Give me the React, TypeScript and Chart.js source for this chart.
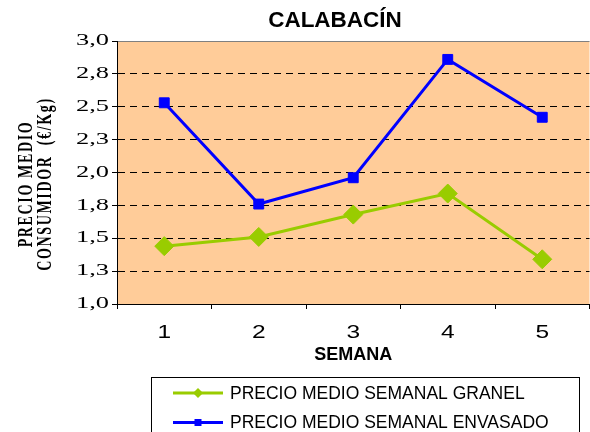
import React, { useEffect, useRef } from "react";
import { Chart, registerables } from "chart.js";

Chart.register(...registerables);

const chartTitle = "CALABACÍN";
const weeks = ["1", "2", "3", "4", "5"];
const granel = [1.44, 1.51, 1.68, 1.84, 1.34];
const envasado = [2.53, 1.76, 1.96, 2.86, 2.42];
const yTickLabels = ["1,0", "1,3", "1,5", "1,8", "2,0", "2,3", "2,5", "2,8", "3,0"];
const seriesLabels = ["PRECIO MEDIO SEMANAL GRANEL", "PRECIO MEDIO SEMANAL ENVASADO"];
const xTitle = "SEMANA";
const yTitleLines = ["PRECIO MEDIO", "CONSUMIDOR  (€/Kg)"];

const GREEN = "#99CC00";
const BLUE = "#0000FF";

const decorPlugin = {
  id: "decor",
  beforeDraw(chart: any) {
    const { ctx, chartArea } = chart;
    ctx.save();
    ctx.fillStyle = "#FFCC99";
    ctx.fillRect(chartArea.left, chartArea.top, chartArea.right - chartArea.left, chartArea.bottom - chartArea.top);
    ctx.restore();
  },
  afterDraw(chart: any) {
    const { ctx } = chart;
    ctx.save();
    // title
    ctx.fillStyle = "#000";
    ctx.font = "bold 22.5px 'Liberation Sans', Arial, sans-serif";
    ctx.textAlign = "center";
    ctx.textBaseline = "alphabetic";
    ctx.fillText(chartTitle, 335, 27);

    // y tick labels (horizontally widened, as in the reference)
    const ys = chart.scales.y;
    ctx.font = "16px 'Liberation Serif', 'Times New Roman', serif";
    ctx.textAlign = "right";
    ctx.textBaseline = "middle";
    ys.ticks.forEach((_t: any, i: number) => {
      const py = ys.getPixelForTick(i);
      ctx.save();
      ctx.translate(109, py);
      ctx.scale(1.65, 1);
      ctx.fillText(yTickLabels[i], 0, 0);
      ctx.restore();
    });

    // x tick labels
    const xs = chart.scales.x;
    ctx.font = "17.5px 'Liberation Sans', Arial, sans-serif";
    ctx.textAlign = "center";
    ctx.textBaseline = "middle";
    weeks.forEach((w, i) => {
      const px = xs.getPixelForTick(i);
      ctx.save();
      ctx.translate(px, 333);
      ctx.scale(1.4, 1);
      ctx.fillText(w, 0, 0);
      ctx.restore();
    });

    // y axis title
    ctx.save();
    ctx.font = "bold 14px 'Liberation Serif', 'Times New Roman', serif";
    (ctx as any).letterSpacing = "1.65px";
    ctx.textAlign = "center";
    ctx.textBaseline = "middle";
    const tx = [27, 46];
    yTitleLines.forEach((line, i) => {
      ctx.save();
      ctx.translate(tx[i], 184);
      ctx.scale(1.45, 1);
      ctx.rotate(-Math.PI / 2);
      ctx.fillText(line, 0, 0);
      ctx.restore();
    });
    ctx.restore();

    // legend
    ctx.strokeStyle = "#000";
    ctx.lineWidth = 1;
    ctx.strokeRect(151.5, 377.5, 428, 70);
    const ds = chart.data.datasets;
    ds.forEach((d: any, i: number) => {
      const y = 393 + i * 29.5;
      ctx.strokeStyle = d.borderColor;
      ctx.lineWidth = 3;
      ctx.beginPath();
      ctx.moveTo(173, y);
      ctx.lineTo(223, y);
      ctx.stroke();
      ctx.fillStyle = d.borderColor;
      ctx.beginPath();
      if (d.pointStyle === "rectRot") {
        const r = 5;
        ctx.moveTo(198 - r, y);
        ctx.lineTo(198, y - r);
        ctx.lineTo(198 + r, y);
        ctx.lineTo(198, y + r);
        ctx.closePath();
      } else {
        ctx.rect(198 - 3.5, y - 3.5, 7, 7);
      }
      ctx.fill();
      ctx.fillStyle = "#000";
      ctx.font = "17.5px 'Liberation Sans', Arial, sans-serif";
      ctx.textAlign = "left";
      ctx.textBaseline = "middle";
      ctx.fillText(d.label, 230, y + 1);
    });
    ctx.restore();
  },
};

export default function App() {
  const ref = useRef<HTMLCanvasElement | null>(null);
  useEffect(() => {
    if (!ref.current) return;
    const chart = new Chart(ref.current, {
      type: "line",
      data: {
        labels: weeks,
        datasets: [
          {
            label: seriesLabels[0],
            data: granel,
            borderColor: GREEN,
            backgroundColor: GREEN,
            borderWidth: 3,
            pointStyle: "rectRot",
            pointRadius: 9.5,
            pointBorderWidth: 1,
            pointBackgroundColor: GREEN,
            pointBorderColor: GREEN,
            tension: 0,
          },
          {
            label: seriesLabels[1],
            data: envasado,
            borderColor: BLUE,
            backgroundColor: BLUE,
            borderWidth: 3,
            pointStyle: "rect",
            pointRadius: 7,
            pointBorderWidth: 1,
            pointBackgroundColor: BLUE,
            pointBorderColor: BLUE,
            tension: 0,
          },
        ],
      },
      options: {
        animation: false,
        responsive: false,
        devicePixelRatio: 1,
        layout: { padding: { top: 41, right: 5, bottom: 68, left: 0 } },
        plugins: {
          legend: { display: false },
          title: { display: false },
          tooltip: { enabled: false },
        },
        scales: {
          x: {
            type: "category",
            offset: true,
            afterFit: (s: any) => {
              s.height = 60;
            },
            grid: {
              offset: true,
              drawOnChartArea: false,
              drawTicks: true,
              tickLength: 5,
              tickColor: "#000",
              color: "#000",
            },
            border: { display: true, color: "#000", width: 1 },
            ticks: {
              color: "rgba(0,0,0,0)",
              padding: 14,
              font: { family: "'Liberation Sans', Arial, sans-serif", size: 17 },
              maxRotation: 0,
            },
            title: {
              display: true,
              text: xTitle,
              color: "#000",
              padding: { top: 0, bottom: 0 },
              font: { family: "'Liberation Sans', Arial, sans-serif", size: 18, weight: "bold", lineHeight: 1 },
            },
          },
          y: {
            type: "linear",
            min: 1,
            max: 3,
            afterFit: (s: any) => {
              s.width = 117;
            },
            grid: {
              drawTicks: true,
              tickLength: 5,
              tickColor: "#000",
              lineWidth: 1,
              color: (c: any) => {
                const v = c.tick ? c.tick.value : 0;
                if (Math.abs(v - 1) < 1e-6) return "rgba(0,0,0,0)";
                if (Math.abs(v - 3) < 1e-6) return "#808080";
                return "#000";
              },
            },
            border: {
              display: true,
              color: "#000",
              width: 1,
              dash: (c: any) => {
                const v = c.tick ? c.tick.value : 0;
                if (Math.abs(v - 3) < 1e-6) return [];
                return [7, 5];
              },
            },
            ticks: {
              stepSize: 0.25,
              color: "rgba(0,0,0,0)",
              padding: 3,
              font: { family: "'Liberation Serif', 'Times New Roman', serif", size: 16 },
              callback: (_v: any, i: number) => yTickLabels[i],
            },
          },
        },
      },
      plugins: [decorPlugin],
    } as any);
    return () => chart.destroy();
  }, []);

  return (
    <div style={{ position: "absolute", left: 0, top: 0, width: 590, height: 432, overflow: "hidden", background: "#fff" }}>
      <canvas ref={ref} width={600} height={432} style={{ display: "block" }} />
    </div>
  );
}
